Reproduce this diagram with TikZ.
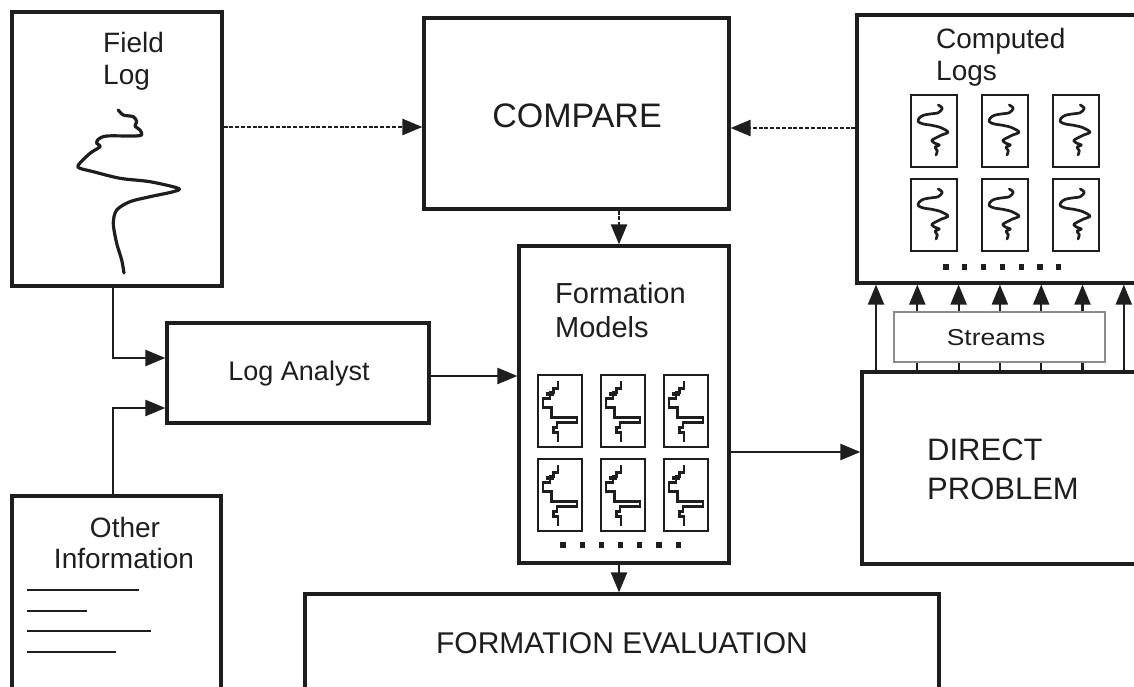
\documentclass[tikz,border=0pt]{standalone}
\usepackage{fontspec}
\setmainfont{Liberation Sans}
\usepackage{graphicx}
\usetikzlibrary{arrows.meta}
\definecolor{ink}{RGB}{30,30,30}
\definecolor{lightframe}{RGB}{140,140,140}
\newcommand\fsz[1]{\fontsize{#1}{#1}\selectfont}
\tikzset{
  box/.style={draw=ink, line width=3.2pt, inner sep=0pt, fill=white},
  smallbox/.style={draw=ink, line width=2.5pt},
  conn/.style={draw=ink, line width=2.2pt, -{Triangle[length=20pt,width=16pt]}},
  dconn/.style={conn, line width=2.4pt, dash pattern=on 4pt off 1.8pt},
  lbl/.style={inner sep=0pt, text=ink},
  curve/.style={draw=ink, line width=2.7pt, line join=round, line cap=round},
}
\newcommand\steplog[2]{%
  \begin{scope}[shift={(#1,#2)}]
    \draw[smallbox] (0,0) rectangle (44,72);
    \fill[ink] (8.3,16.7) rectangle (15.5,20.9);
    \draw[ink, line width=2.6pt, line join=miter]
      (20,6) -- (20,13.3) -- (15.7,13.3) -- (15.7,17.3) -- (12,17.3) -- (12,23.3)
      -- (5,23.3) -- (5,32.7) -- (13.3,32.7) -- (13.3,42.7) -- (39,42.7) -- (39,47.7)
      -- (19,47.7) -- (19,52.7) -- (15.7,52.7) -- (15.7,57.7) -- (20,57.7) -- (20,67.3);
  \end{scope}}
\newcommand\wigglelog[2]{%
  \begin{scope}[shift={(#1,#2)}]
    \draw[smallbox] (0,0) rectangle (46,72);
    \draw[curve] plot[smooth, tension=0.5] coordinates {
      (27.3,10) (31.3,13.3) (27.3,17.7) (19,19) (12.3,20.3) (8,23.3) (7.3,26.7)
      (12.3,29) (20.7,30.3) (29,32.3) (35.7,35.7) (36.7,37.7) (30.7,40) (24,43.3)
      (20.7,45.7) (24,48.3) (28.3,50) (24,52.3) (26.3,55.7) (25,60)};
  \end{scope}}
\begin{document}
\begin{tikzpicture}[x=1pt,y=-1pt]
\clip (0,0) rectangle (1134,686);
\fill[white] (0,0) rectangle (1134,686);

% main boxes
\node[box, minimum width=210pt, minimum height=274pt] (fl) at (117,149) {};
\node[box, minimum width=305pt, minimum height=191pt] (cmp) at (576.5,113.5) {};
\node[box, minimum width=290pt, minimum height=268pt] (cl) at (1002,149) {};
\node[box, minimum width=210pt, minimum height=317pt] (fm) at (624,404.5) {};
\node[box, minimum width=262pt, minimum height=100pt] (la) at (298,373) {};
\node[box, minimum width=288pt, minimum height=192pt] (dp) at (1006,468) {};
\node[box, minimum width=209pt, minimum height=204pt] (oi) at (116.5,598) {};
\node[box, minimum width=634pt, minimum height=106pt] (fe) at (622,647) {};

% texts
\node[lbl, anchor=base west, font=\fsz{28}] (flt1) at (103,52) {Field};
\node[lbl, anchor=base west, font=\fsz{28}] (flt2) at (103,84) {Log};
\node[lbl, anchor=base, font=\fsz{34}] (cmpt) at (577,127) {COMPARE};
\node[lbl, anchor=base west, font=\fsz{28}] (clt1) at (936,48) {Computed};
\node[lbl, anchor=base west, font=\fsz{28}] (clt2) at (936,80) {Logs};
\node[lbl, anchor=base west, font=\fsz{29}] (fmt1) at (555,303) {Formation};
\node[lbl, anchor=base west, font=\fsz{29}] (fmt2) at (555,337) {Models};
\node[lbl, anchor=base, font=\fsz{27}] (lat) at (299,380) {Log Analyst};
\node[lbl, anchor=base west, font=\fsz{31}] (dpt1) at (927,460) {DIRECT};
\node[lbl, anchor=base west, font=\fsz{31}] (dpt2) at (927,499) {PROBLEM};
\node[lbl, anchor=base, font=\fsz{28}] (oit1) at (125,537) {Other};
\node[lbl, anchor=base, font=\fsz{28}] (oit2) at (124,568) {Information};
\node[lbl, anchor=base, font=\fsz{30}] (fet) at (622,653) {FORMATION EVALUATION};

% field log curve
\draw[curve, line width=3.2pt] plot[smooth, tension=0.5] coordinates {
  (118.3,110) (123.3,115) (133.3,116.7) (136.7,121.7) (135,126) (140,130) (141.7,135)
  (133.3,136) (106.7,136) (98.3,139.3) (96.7,143.3) (100,146.7) (90,153.3) (78.3,165)
  (80,168.3) (93.3,171.7) (120,178.3) (150,181.7) (178.3,188.3) (173.3,191.7) (150,196.7)
  (130,201.7) (116.7,210) (113.3,223.3) (116.7,243.3) (121.7,260) (124,273)};

% other information lines
\draw[ink, line width=2.2pt] (27,590) -- (139,590);
\draw[ink, line width=2.2pt] (27,611) -- (87,611);
\draw[ink, line width=2.2pt] (27,631) -- (151,631);
\draw[ink, line width=2.2pt] (27,652) -- (116,652);

% formation model small logs
\steplog{538}{375}
\steplog{601}{375}
\steplog{664}{375}
\steplog{538}{459}
\steplog{601}{459}
\steplog{664}{459}
\foreach \i in {0,...,6} \fill[ink] (563+\i*19.2-2.6,545-2.6) rectangle ++(5.2,5.2);

% computed small logs
\wigglelog{911}{95}
\wigglelog{982}{95}
\wigglelog{1053}{95}
\wigglelog{911}{179}
\wigglelog{982}{179}
\wigglelog{1053}{179}
\foreach \i in {0,...,6} \fill[ink] (946+\i*18.8-2.6,267-2.6) rectangle ++(5.2,5.2);

% connectors
\draw[dconn] (fl.east |- 0,127) -- (cmp.west |- 0,127);
\draw[dconn] (cl.west |- 0,128) -- (cmp.east |- 0,128);
\draw[dconn] (cmp.south -| 619,0) -- (fm.north -| 619,0);
\draw[conn] (fl.south -| 113,0) |- (la.west |- 0,358);
\draw[conn] (oi.north -| 113,0) |- (la.west |- 0,408);
\draw[conn] (la.east |- 0,376) -- (fm.west |- 0,376);
\draw[conn] (fm.east |- 0,452) -- (dp.west |- 0,452);
\draw[conn] (fm.south -| 619,0) -- (fe.north -| 619,0);
\foreach \k in {0,...,6}
  \draw[conn] (dp.north -| 876+\k*41.3,0) -- (cl.south -| 876+\k*41.3,0);

% streams
\node[draw=lightframe, line width=1.3pt, fill=white, minimum width=211pt, minimum height=50pt, inner sep=0pt] (st) at (999.5,337) {};
\node[lbl, anchor=base, font=\fsz{23}] (stt) at (996,345) {\scalebox{1.15}[1]{Streams}};
\end{tikzpicture}
\end{document}
